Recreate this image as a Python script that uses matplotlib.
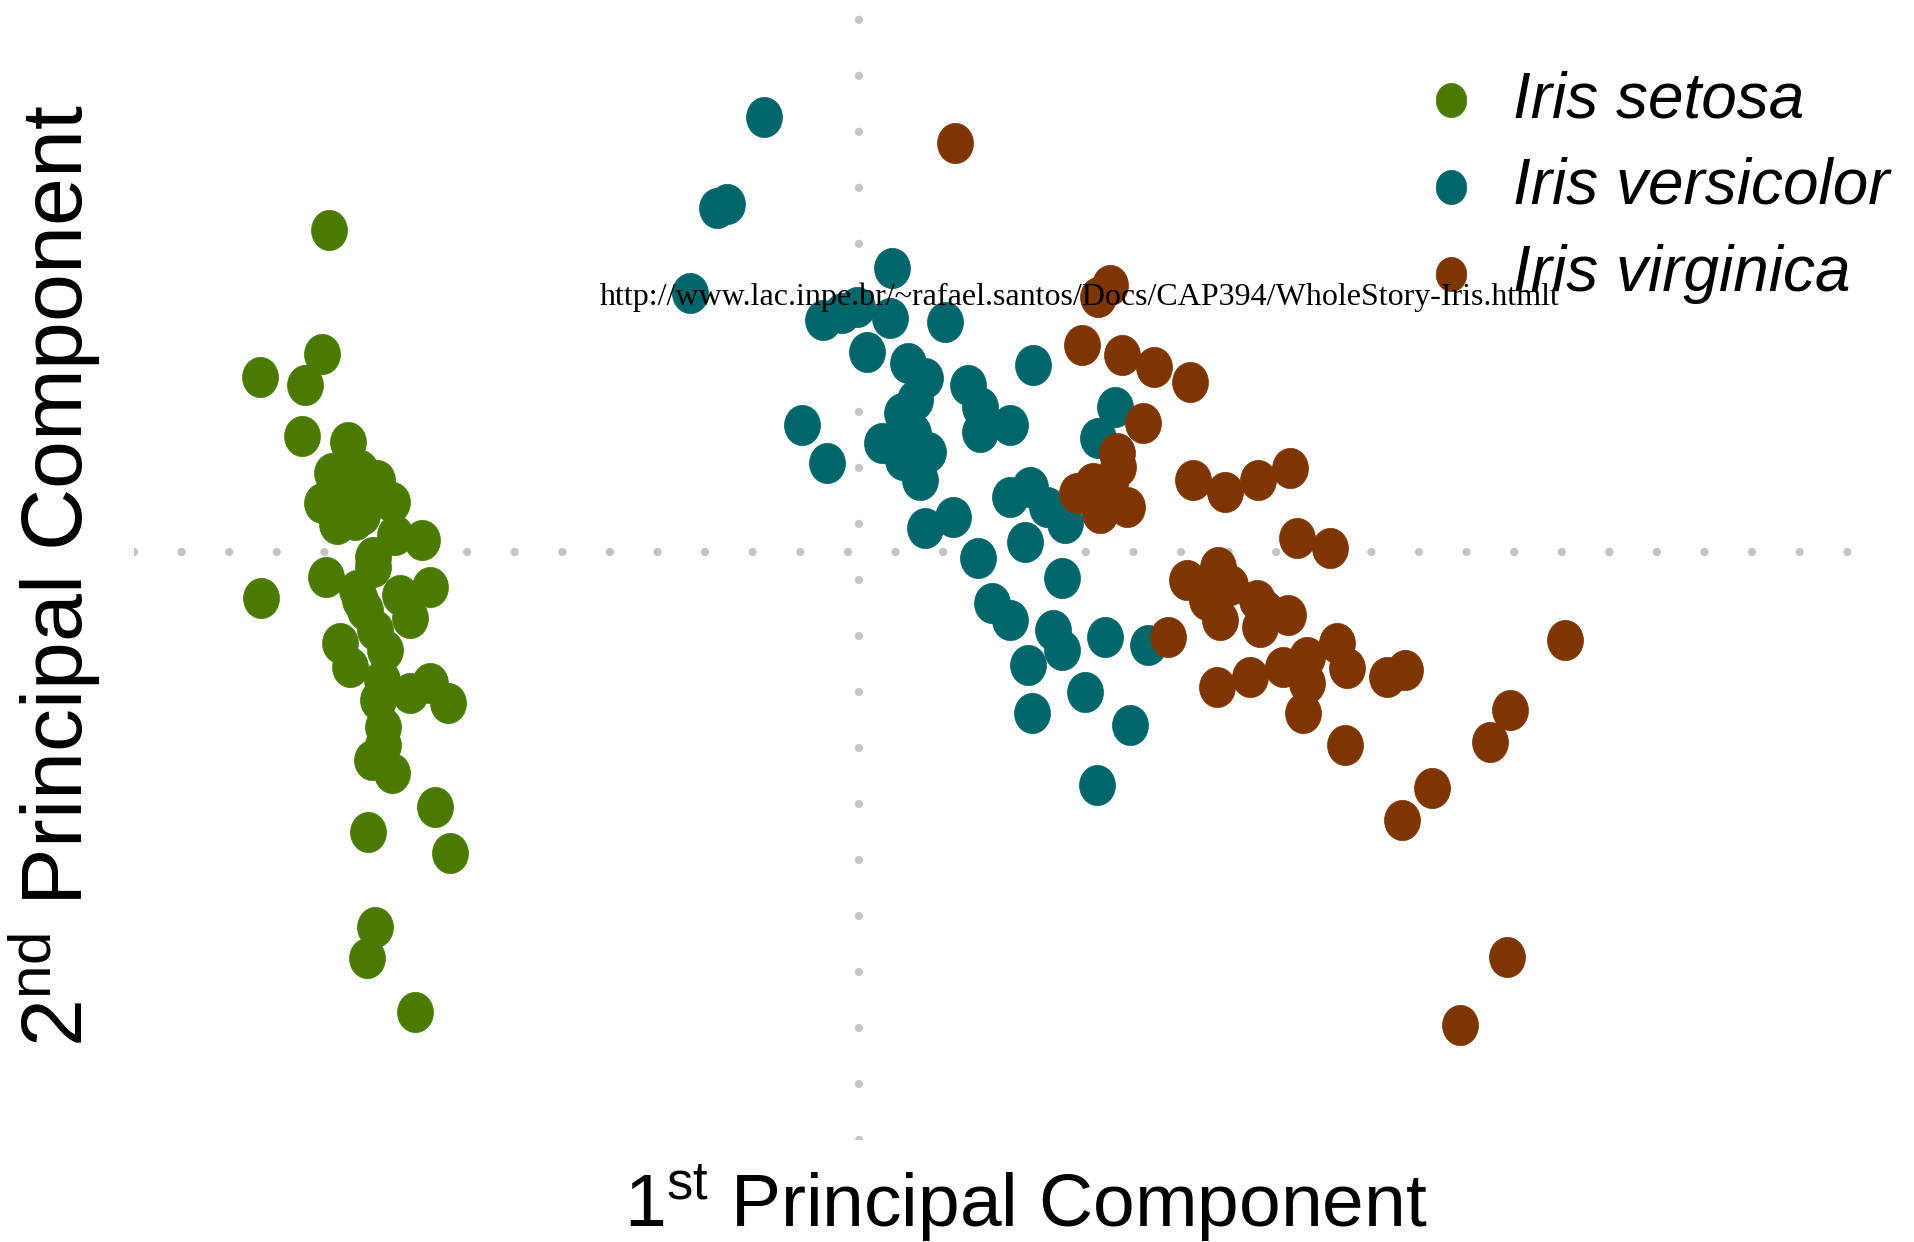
import numpy as np
import matplotlib
matplotlib.use("Agg")
import matplotlib.pyplot as plt
from matplotlib.path import Path
from matplotlib.transforms import Affine2D

plt.rcParams['font.family'] = ['Liberation Sans', 'DejaVu Sans']
plt.rcParams['mathtext.fontset'] = 'custom'
plt.rcParams['mathtext.rm'] = 'Liberation Sans'
plt.rcParams['mathtext.it'] = 'Liberation Sans:italic'

# PCA scores (PC1, PC2)
setosa_pc1 = [-2.65, -2.685, -2.995, -2.77, -2.785, -2.555, -2.635, -2.41, -2.335, -2.685,
              -2.61, -2.485, -2.555, -2.495, -2.595, -2.445, -2.185, -2.43, -2.665, -2.99,
              -2.145, -2.51, -2.295, -2.43, -2.42, -2.245, -2.595, -2.545, -2.385, -2.245,
              -2.145, -2.055, -2.38, -2.435, -2.335, -2.12, -2.455, -2.045, -2.42, -2.46,
              -2.22, -2.47, -2.37, -2.405, -2.52, -2.57, -2.38, -2.495, -2.32, -2.62]
setosa_pc2 = [1.61, 0.99, 0.875, 0.835, 0.58, 0.55, 0.395, 0.36, 0.25, 0.245,
              0.14, 0.185, 0.30, 0.41, 0.26, 0.26, 0.06, -0.025, -0.125, -0.23,
              -0.175, -0.19, -0.215, -0.075, -0.39, -0.33, -0.455, -0.575, -0.64, -0.705,
              -0.655, -0.755, -0.875, -1.04, -1.105, -1.275, -1.40, -1.505, -1.875, -2.03,
              -2.30, -0.29, -0.49, -0.74, 0.16, 0.36, -0.965, -0.24, 0.085, 0.31]

versicolor_pc1 = [-0.475, -0.71, -0.66, -0.845, 0.165, -0.18, -0.01, -0.085, 0.155, 0.43,
                  0.04, 0.245, 0.33, 0.545, 0.87, 0.605, 0.605, 0.755, -0.285, -0.16,
                  0.215, 0.115, 0.27, 0.345, 0.305, 0.22, 1.28, 1.195, 0.755, 0.855,
                  0.94, 1.03, 0.83, 0.33, 0.47, 0.595, 1.015, 0.665, 0.755, 0.97,
                  1.015, 0.845, 1.23, 1.445, 1.13, 0.865, 1.355, 1.19, 0.17, 0.28]
versicolor_pc2 = [2.175, 1.72, 1.74, 1.295, 1.42, 1.16, 1.225, 1.195, 1.17, 1.15,
                  1.00, 0.945, 0.87, 0.835, 0.935, 0.725, 0.60, 0.635, 0.635, 0.445,
                  0.695, 0.545, 0.595, 0.50, 0.36, 0.46, 0.725, 0.57, 0.275, 0.325,
                  0.225, 0.145, 0.05, 0.12, 0.175, -0.03, -0.13, -0.255, -0.34, -0.39,
                  -0.49, -0.565, -0.425, -0.465, -0.70, -0.805, -0.865, -1.165, 0.535, 0.76]

virginica_pc1 = [0.48, 1.255, 1.195, 1.115, 1.315, 1.475, 1.655, 1.42, 1.29, 1.09,
                 1.17, 1.205, 1.34, 1.255, 1.295, 1.67, 1.83, 1.995, 2.155, 2.19,
                 2.355, 1.64, 1.795, 1.74, 1.805, 1.99, 2.005, 2.145, 1.545, 1.79,
                 1.955, 2.12, 2.24, 2.39, 2.44, 2.64, 2.73, 2.24, 2.22, 2.43,
                 3.53, 3.255, 3.155, 2.865, 2.715, 3.24, 3.005, 1.23, 1.855, 2.03]
virginica_pc2 = [2.045, 1.335, 1.275, 1.035, 0.985, 0.925, 0.85, 0.645, 0.495, 0.295,
                 0.345, 0.195, 0.225, 0.345, 0.425, 0.36, 0.30, 0.36, 0.42, 0.07,
                 0.02, -0.14, -0.075, -0.24, -0.34, -0.24, -0.375, -0.315, -0.425, -0.675,
                 -0.625, -0.575, -0.525, -0.455, -0.58, -0.625, -0.59, -0.655, -0.805, -0.965,
                 -0.44, -0.79, -0.95, -1.18, -1.34, -2.025, -2.365, 0.26, -0.165, -0.29]

species = ['Iris setosa', 'Iris versicolor', 'Iris virginica']
colors = ['#4a7b00', '#00666a', '#7e3500']

fig = plt.figure(figsize=(19.15, 12.42), dpi=100)
ax = fig.add_axes([0.0700, 0.0821, 0.9013, 0.9114])
ax.set_xlim(-3.625, 5.005)
ax.set_ylim(-2.94, 2.72)
ax.axis('off')

# dotted zero lines
ax.axhline(0, color='#c4c4c4', lw=6, linestyle=(0, (0.001, 5.71)),
           dash_capstyle='round', zorder=1)
ax.axvline(0, color='#c4c4c4', lw=6, linestyle=(0, (0.001, 6.72)),
           dash_capstyle='round', zorder=1)

# slightly tall markers, like the stretched original
oval = Path.unit_circle().transformed(Affine2D().scale(1.0, 1.12))

handles = []
for xs, ys, c, name in zip([setosa_pc1, versicolor_pc1, virginica_pc1],
                           [setosa_pc2, versicolor_pc2, virginica_pc2],
                           colors, species):
    h = ax.scatter(xs, ys, s=29 ** 2, marker=oval, color=c, edgecolors=c,
                   linewidths=0.5, zorder=3, label=name)
    handles.append(h)

fig.legend(handles=handles, loc='upper left', bbox_to_anchor=(1419 / 1915, 1 - 70 / 1242),
           frameon=False, borderpad=0, borderaxespad=0, handlelength=1.0,
           handletextpad=0.47, labelspacing=0.42, markerscale=0.85,
           prop={'family': 'Liberation Sans', 'style': 'italic', 'size': 46})

fig.text(1026 / 1915, 1 - 1227 / 1242, r'1$^{\mathrm{st}}$ Principal Component',
         ha='center', va='baseline', fontsize=54)
fig.text(55 / 1915, 1 - 576 / 1242, r'2$^{\mathrm{nd}}$ Principal Component',
         ha='center', va='center', rotation=90, fontsize=62)

fig.text(600 / 1915, 1 - 305 / 1242,
         'http://www.lac.inpe.br/~rafael.santos/Docs/CAP394/WholeStory-Iris.htmlt',
         family='Liberation Serif', fontsize=23, ha='left', va='baseline', zorder=10)

fig.savefig('out.png', dpi=100)
